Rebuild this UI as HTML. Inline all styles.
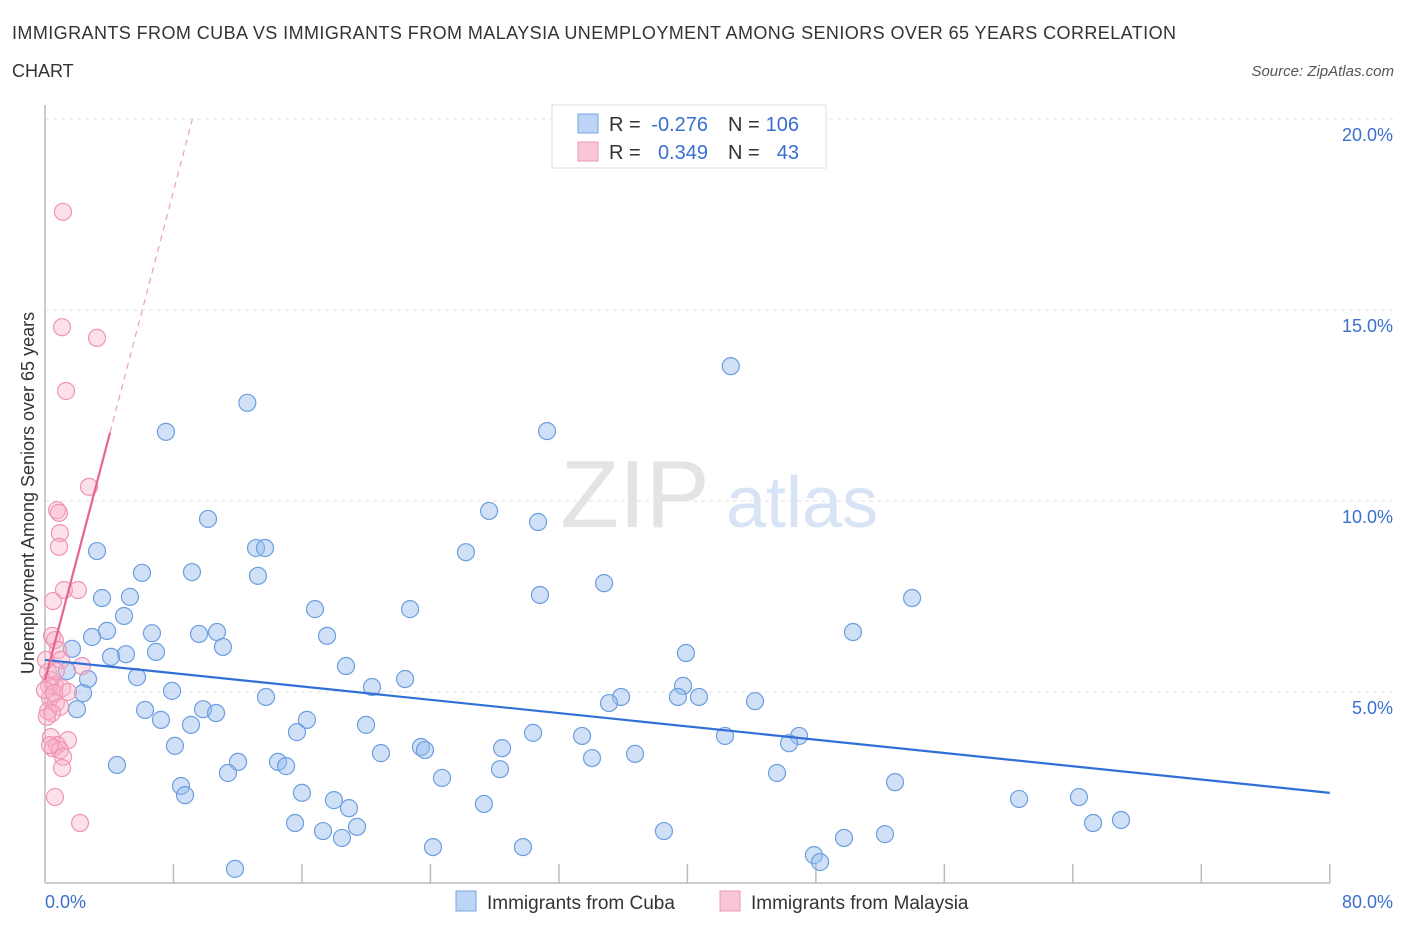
<!DOCTYPE html>
<html><head><meta charset="utf-8"><style>
body{margin:0;background:#fff;font-family:"Liberation Sans",sans-serif;}
svg text{font-family:"Liberation Sans",sans-serif;}
</style></head><body>
<svg width="1406" height="930" xmlns="http://www.w3.org/2000/svg">
<text x="12" y="39" font-size="18" fill="#333" textLength="1164" lengthAdjust="spacing">IMMIGRANTS FROM CUBA VS IMMIGRANTS FROM MALAYSIA UNEMPLOYMENT AMONG SENIORS OVER 65 YEARS CORRELATION</text>
<text x="12" y="77" font-size="18" fill="#333">CHART</text>
<text x="1394" y="76" font-size="15" font-style="italic" fill="#555" text-anchor="end">Source: ZipAtlas.com</text>
<text x="635" y="527" font-size="96" fill="#e4e4e4" font-family="Liberation Serif" text-anchor="middle">ZIP</text>
<text x="802" y="527" font-size="72" fill="#d6e4f5" text-anchor="middle">atlas</text>
<g id="grid"></g><g id="axes"></g><g id="pts"></g><g id="lines"></g>
<text transform="translate(34,493) rotate(-90)" font-size="18" fill="#333" text-anchor="middle">Unemployment Among Seniors over 65 years</text>
<text x="45" y="908" font-size="18" fill="#3a6fd0">0.0%</text>
<text x="1393" y="908" font-size="18" fill="#3a6fd0" text-anchor="end">80.0%</text>
<g>
<rect x="552" y="105" width="274" height="63" fill="#fff" stroke="#ddd"/>
<rect x="578" y="114" width="20" height="19" fill="#bcd4f5" stroke="#7aa6e0"/>
<rect x="578" y="142" width="20" height="19" fill="#f9c6d6" stroke="#ee9ab6"/>
<text x="609" y="131" font-size="20" fill="#333">R =</text>
<text x="708" y="131" font-size="20" fill="#3a6fd0" text-anchor="end">-0.276</text>
<text x="728" y="131" font-size="20" fill="#333">N =</text>
<text x="799" y="131" font-size="20" fill="#3a6fd0" text-anchor="end">106</text>
<text x="609" y="159" font-size="20" fill="#333">R =</text>
<text x="708" y="159" font-size="20" fill="#3a6fd0" text-anchor="end">0.349</text>
<text x="728" y="159" font-size="20" fill="#333">N =</text>
<text x="799" y="159" font-size="20" fill="#3a6fd0" text-anchor="end">43</text>
</g>
<g>
<rect x="456" y="891" width="20" height="20" fill="#bcd4f5" stroke="#7aa6e0"/>
<text x="487" y="909" font-size="19" fill="#333">Immigrants from Cuba</text>
<rect x="720" y="891" width="20" height="20" fill="#f9c6d6" stroke="#ee9ab6"/>
<text x="751" y="909" font-size="19" fill="#333">Immigrants from Malaysia</text>
</g>
</svg>
<script>
const yTicks=[5,10,15,20];
const yTickLabels=["5.0%","10.0%","15.0%","20.0%"];
const xTicks=[0,8,16,24,32,40,48,56,64,72,80];
const cubaX=[42.7,12.6,7.53,31.26,27.65,30.7,10.15,3.24,13.14,13.7,26.21,6.04,9.15,13.26,34.81,30.82,3.55,5.29,16.81,22.73,53.99,4.92,3.86,6.66,9.59,10.71,17.56,50.31,2.93,11.08,1.68,5.04,4.11,6.91,39.91,18.74,1.37,5.73,2.68,22.42,20.36,7.91,39.73,35.87,39.41,40.72,35.12,44.21,13.76,2.37,1.99,6.23,9.84,10.65,7.22,9.09,16.31,19.99,15.69,30.39,42.34,33.44,46.95,46.33,8.09,23.41,23.66,28.46,20.92,36.74,34.06,12.02,14.51,15.01,4.48,28.33,11.39,24.72,45.58,8.47,8.72,52.93,16.0,17.99,18.93,60.65,64.38,27.33,15.57,19.43,17.31,67.0,65.26,38.54,52.3,49.75,18.49,24.16,29.76,47.88,48.26,11.83];
const cubaY=[13.53,12.57,11.81,11.83,9.74,9.45,9.53,8.69,8.77,8.77,8.66,8.12,8.14,8.04,7.85,7.54,7.46,7.49,7.17,7.17,7.46,6.99,6.6,6.54,6.52,6.57,6.47,6.57,6.44,6.18,6.13,5.99,5.92,6.05,6.02,5.68,5.55,5.39,5.34,5.34,5.13,5.03,5.16,4.87,4.87,4.87,4.71,4.76,4.87,4.97,4.55,4.53,4.55,4.45,4.27,4.14,4.27,4.14,3.95,3.93,3.85,3.85,3.85,3.66,3.59,3.56,3.48,3.53,3.4,3.38,3.27,3.17,3.17,3.06,3.09,2.98,2.88,2.75,2.88,2.54,2.3,2.64,2.36,2.17,1.96,2.2,2.25,2.07,1.57,1.47,1.36,1.65,1.57,1.36,1.28,1.18,1.18,0.94,0.94,0.73,0.55,0.37];
const malX=[1.12,1.06,3.24,1.31,2.74,0.75,0.87,0.93,0.87,1.18,2.05,0.5,0.44,0.62,0.81,1.0,2.3,0.19,0.37,0.62,1.06,1.43,0.31,0.68,0.93,0.19,0.44,0.12,0.37,1.43,0.75,0.5,0.93,1.12,1.06,0.62,2.18,0.31,0.25,0.0,0.68,0.56,0.06];
const malY=[17.57,14.55,14.27,12.88,10.37,9.76,9.69,9.16,8.8,7.67,7.67,7.38,6.47,6.36,6.1,5.84,5.68,5.52,5.31,5.18,5.1,5.0,4.84,4.71,4.61,4.5,4.45,4.35,3.82,3.74,3.61,3.53,3.48,3.3,3.01,2.25,1.57,3.61,5.16,5.05,5.55,4.97,5.84];
const cubaTrend=[5.84,2.36];
const malTrend=[5.31,1.6];
const X=v=>45+v*16.06, Y=v=>883-v*38.2;
const NS="http://www.w3.org/2000/svg";
function mk(t,a,p){const e=document.createElementNS(NS,t);for(const k in a)e.setAttribute(k,a[k]);document.getElementById(p).appendChild(e);return e;}
yTicks.forEach((v,i)=>{
 const l=mk('line',{x1:45,x2:1395,y1:Y(v),y2:Y(v),stroke:'#e2e2e2','stroke-dasharray':'4,4'},'grid');
 
 
 const t=mk('text',{x:1393,y:Y(v)+22,'font-size':18,fill:'#3a6fd0','text-anchor':'end'},'grid');
 t.textContent=yTickLabels[i];
 
 
});
let ax=mk('line',{x1:45,x2:45,y1:105,y2:883,stroke:'#bbb','stroke-width':1.5},'axes');


ax=mk('line',{x1:45,x2:1330,y1:883,y2:883,stroke:'#bbb','stroke-width':1.5},'axes');


xTicks.forEach(v=>{if(v===0)return;
 const l=mk('line',{x1:X(v),x2:X(v),y1:864,y2:883,stroke:'#bbb','stroke-width':1.5},'axes');
 
 
});
cubaX.forEach((v,i)=>{
 const c=mk('circle',{cx:X(v),cy:Y(cubaY[i]),r:8.5,fill:'rgba(150,188,238,0.45)',stroke:'#6c9ee0','stroke-width':1.2},'pts');
 
 
});
malX.forEach((v,i)=>{
 const c=mk('circle',{cx:X(v),cy:Y(malY[i]),r:8.5,fill:'rgba(246,176,200,0.38)',stroke:'#f095b4','stroke-width':1.2},'pts');
 
 
});
let ln=mk('line',{x1:X(0),y1:Y(cubaTrend[0]),x2:X(80),y2:Y(cubaTrend[1]),stroke:'#2f6fd6','stroke-width':2.2},'lines');


const xe=4.05, xd=(20-malTrend[0])/malTrend[1];
ln=mk('line',{x1:X(0),y1:Y(malTrend[0]),x2:X(xe),y2:Y(malTrend[0]+malTrend[1]*xe),stroke:'#e8638e','stroke-width':2.2},'lines');


ln=mk('line',{x1:X(xe),y1:Y(malTrend[0]+malTrend[1]*xe),x2:X(xd),y2:Y(20),stroke:'#eaa0b8','stroke-width':1.2,'stroke-dasharray':'6,5'},'lines');


</script>
</body></html>
